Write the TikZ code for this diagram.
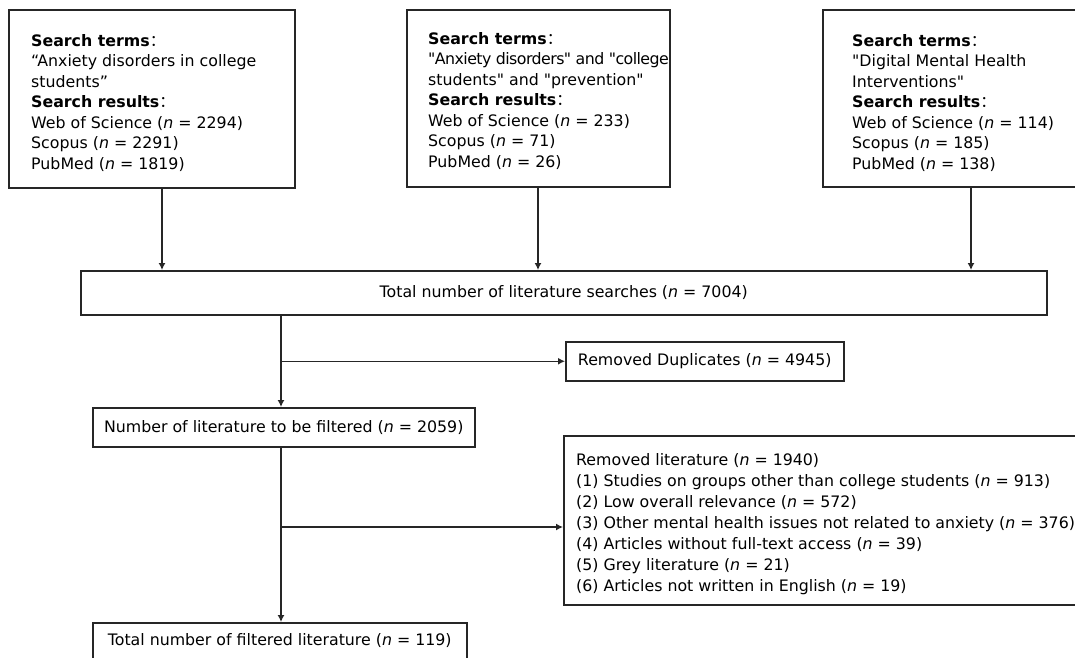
\documentclass[tikz,border=0pt]{standalone}
\usepackage{fontspec}
\setmainfont{DejaVu Sans}[Ligatures=TeXOff]
\newfontfamily\cjk{Noto Sans CJK SC}
\usetikzlibrary{arrows.meta}
\newcommand{\nn}{\textit{n}}
\newcommand{\fw}{{\cjk ：}}
\begin{document}
\begin{tikzpicture}[x=1pt,y=-1pt,
    every node/.style={font=\fontsize{15.8}{20.5}\selectfont},
    box/.style={draw=black!85,line width=1.5pt,inner sep=0pt,anchor=north west},
    list/.style={align=left,inner sep=0pt,anchor=north west},
    flow/.style={draw=black!85,line width=1.3pt,-{Latex[length=7pt,width=7pt]}}]
    \useasboundingbox (0,0) rectangle (1075,657);
    % search boxes
    \node[box,minimum width=286,minimum height=178] (terms1) at (8,9) {};
    \node[box,minimum width=263,minimum height=177] (terms2) at (406,9) {};
    \node[box,minimum width=300,minimum height=177] (terms3) at (822,9) {};
    \node[list] (list1) at (31,34) {\textbf{Search terms}\fw\\
        “Anxiety disorders in college\\ students”\\
        \textbf{Search results}\fw\\
        Web of Science (\nn{} = 2294)\\ Scopus (\nn{} = 2291)\\ PubMed (\nn{} = 1819)};
    \node[list] (list2) at (428,32) {\textbf{Search terms}\fw\\
        {\addfontfeature{LetterSpace=-3.5}"Anxiety disorders" and "college}\\ students" and "prevention"\\
        \textbf{Search results}\fw\\
        Web of Science (\nn{} = 233)\\ Scopus (\nn{} = 71)\\ PubMed (\nn{} = 26)};
    \node[list] (list3) at (852,34) {\textbf{Search terms}\fw\\
        "Digital Mental Health\\ Interventions"\\
        \textbf{Search results}\fw\\
        Web of Science (\nn{} = 114)\\ Scopus (\nn{} = 185)\\ PubMed (\nn{} = 138)};
    % flow boxes
    \node[box,minimum width=966,minimum height=44] (total) at (80,270)
        {Total number of literature searches (\nn{} = 7004)};
    \node[box,minimum width=278,minimum height=39] (dup) at (565,341)
        {Removed Duplicates (\nn{} = 4945)};
    \node[box,minimum width=382,minimum height=39] (filt) at (92,407)
        {Number of literature to be filtered (\nn{} = 2059)};
    \node[box,minimum width=540,minimum height=169] (rem) at (563,435) {};
    \node[list,font=\fontsize{15.8}{21}\selectfont] (remlist) at (576,453)
        {Removed literature (\nn{} = 1940)\\
        (1) Studies on groups other than college students (\nn{} = 913)\\
        (2) Low overall relevance (\nn{} = 572)\\
        (3) Other mental health issues not related to anxiety (\nn{} = 376)\\
        (4) Articles without full-text access (\nn{} = 39)\\
        (5) Grey literature (\nn{} = 21)\\
        (6) Articles not written in English (\nn{} = 19)};
    \node[box,minimum width=374,minimum height=36] (final) at (92,622)
        {Total number of filtered literature (\nn{} = 119)};
    % connectors
    \coordinate (a1) at (162,0);
    \coordinate (a2) at (538,0);
    \coordinate (a3) at (971,0);
    \coordinate (trunk) at (281,0);
    \coordinate (cut) at (281,527);
    \foreach \s/\a in {terms1/a1,terms2/a2,terms3/a3}
        \draw[flow] (\s.south -| \a) -- (\a |- total.north);
    \draw[flow] (total.south -| trunk) -- (trunk |- filt.north);
    \draw[flow] (trunk |- dup.west) -- (dup.west);
    \draw[flow] (filt.south -| trunk) -- (trunk |- final.north);
    \draw[flow] (cut) -- (cut -| rem.west);
\end{tikzpicture}
\end{document}
